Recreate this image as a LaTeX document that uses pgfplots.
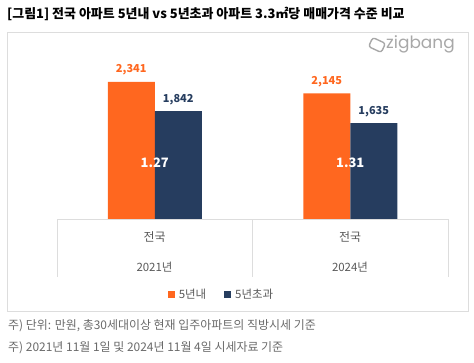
\documentclass[border=0pt]{standalone}
\usepackage{pgfplots}
\pgfplotsset{compat=1.18}
\usepackage{fontspec}
\setmainfont{Noto Sans CJK KR}
\newfontfamily\logofont{Poppins}
\definecolor{zorange}{HTML}{FF671F}
\definecolor{znavy}{HTML}{263D5F}
\definecolor{zline}{HTML}{DDDDDD}
\definecolor{ztext}{HTML}{595959}
\definecolor{znote}{HTML}{6A6A6A}
\definecolor{zlogo}{HTML}{A8A8A8}
\begin{document}
\begin{tikzpicture}[x=1bp,y=1bp]
\useasboundingbox (0,0) rectangle (474,362);
\draw[zline, line width=0.9bp] (7,51) rectangle (468,330);
\node[anchor=west, inner sep=0pt, font=\bfseries\fontsize{13}{15}\selectfont] at (7,348) {[그림1] 전국 아파트 5년내 vs 5년초과 아파트 3.3㎡당 매매가격 수준 비교};
% logo
\draw[zlogo, line width=1.4bp, rounded corners=2.5bp, rotate around={-25:(377,317)}] (370,312) rectangle (384,322);
\node[anchor=west, inner sep=0pt, text=zlogo, font=\logofont\fontsize{17}{18}\selectfont] at (386,318) {zigbang};
\begin{axis}[
  at={(57bp,143bp)}, anchor=south west, scale only axis,
  width=391bp, height=175.8bp,
  xmin=-0.5, xmax=1.5, ymin=0, ymax=3000,
  hide axis,
  ybar=0pt, bar width=47bp,
  /pgf/number format/assume math mode=true,
  /pgf/number format/1000 sep={,},
  legend style={at={(0.4207,-0.432)}, anchor=center, draw=none, fill=none,
    legend columns=2, font=\fontsize{11.5}{13}\selectfont, text=ztext,
    /tikz/every odd column/.append style={column sep=2bp},
    /tikz/every even column/.append style={column sep=16bp}},
  legend image code/.code={\fill[#1] (0bp,-3.5bp) rectangle (7bp,3.5bp);},
]
\addplot[fill=zorange, draw=none, nodes near coords,
  every node near coord/.append style={text=zorange, font=\bfseries\fontsize{11}{13}\selectfont, anchor=south, yshift=3bp}]
  coordinates {(0,2341) (1,2145)};
\addplot[fill=znavy, draw=none, nodes near coords,
  every node near coord/.append style={text=znavy, font=\bfseries\fontsize{11}{13}\selectfont, anchor=south, yshift=3bp}]
  coordinates {(0,1842) (1,1635)};
\legend{5년내, 5년초과}
\node[text=white, font=\bfseries\fontsize{13}{15}\selectfont] at (axis cs:0,955) {1.27};
\node[text=white, font=\bfseries\fontsize{13}{15}\selectfont] at (axis cs:1,955) {1.31};
\end{axis}
\draw[zline, line width=0.9bp] (57,143) -- (448,143);
\draw[zline, line width=0.9bp] (57,143) -- (57,85);
\draw[zline, line width=0.9bp] (252.5,143) -- (252.5,85);
\draw[zline, line width=0.9bp] (448,143) -- (448,85);
\node[text=ztext, font=\fontsize{12}{14}\selectfont] at (154.5,125) {전국};
\node[text=ztext, font=\fontsize{12}{14}\selectfont] at (350,125) {전국};
\node[text=ztext, font=\fontsize{11.5}{13}\selectfont] at (154.5,95) {2021년};
\node[text=ztext, font=\fontsize{11.5}{13}\selectfont] at (350,95) {2024년};
\node[anchor=west, inner sep=0pt, text=znote, font=\fontsize{12}{14}\selectfont] at (8,36) {주) 단위: 만원, 총30세대이상 현재 입주아파트의 직방시세 기준};
\node[anchor=west, inner sep=0pt, text=znote, font=\fontsize{12}{14}\selectfont] at (8,14) {주) 2021년 11월 1일 및 2024년 11월 4일 시세자료 기준};
\end{tikzpicture}
\end{document}
